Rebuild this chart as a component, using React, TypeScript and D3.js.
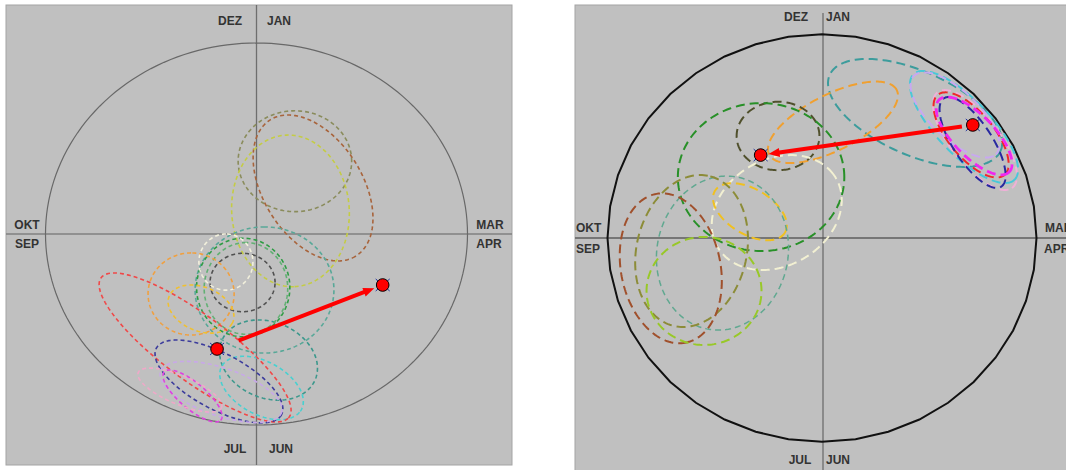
import React from 'react';
import * as d3 from 'd3';

// Month labels around each polar plot
const monthLabels = ['DEZ', 'JAN', 'OKT', 'SEP', 'MAR', 'APR', 'JUL', 'JUN'];

// Ellipses: [centerX, centerY, halfWidth, halfHeight, topOffset] in units of the circle radius (±100)
const leftEllipses: [number, number, number, number, number][] = [
  [18.2, 38.1, 26.9, 26.4, 0],
  [26.8, 24.1, 28.4, 38.2, -11.8],
  [16.1, 12.1, 27.9, 39.7, -1],
  [3.8, -29.3, 32.9, 33.0, 0],
  [5.7, -66, 23.2, 21, -4.7],
  [2.4, -80.6, 19.8, 16.6, -8.5],
  [-6.6, -25.4, 15.4, 15.3, 0],
  [-6.3, -28, 22.1, 25.8, 0],
  [-5, -28.5, 19.8, 24, 0],
  [-14.5, -14.7, 12.8, 14.7, 0],
  [-31, -31.4, 20.4, 21.5, 0],
  [-26.3, -39.3, 15.6, 12.6, -4.7],
  [-29.1, -59.4, 45.5, 39, -38.4],
  [-17.8, -77.2, 30.3, 21.7, -20.1],
  [-16.8, -82.7, 28.9, 16, -16.6],
  [-30.3, -84.8, 14, 13.6, -10.9],
  [-36.3, -81.7, 19.9, 11.5, -14.2],
];
const leftColors = [
  '#8a8c5c', '#a8643c', '#c4cc44', '#58a898', '#3c988c', '#48d0d0', '#505050',
  '#2e9c44', '#62b074', '#f2f0dc', '#f0a040', '#f0c030', '#f04848', '#3c3c9c',
  '#c8a8e8', '#e040e0', '#f0a8c8',
];

const rightEllipses: [number, number, number, number, number][] = [
  [43.4, 61.4, 40.6, 26.5, -22.4],
  [5.1, 56.8, 30.3, 20, 20],
  [-20.5, 50.1, 19.3, 16.8, 0],
  [-28.4, 29.9, 38.8, 36.3, 0],
  [-21.1, 12.5, 30.3, 28.2, 6.5],
  [-33.6, 12.9, 17.2, 14, -8.2],
  [-46.4, -7.4, 30.8, 37.8, 2],
  [-60.8, -6.4, 26.3, 37.3, 4],
  [-70.5, -14.9, 23.8, 36.8, -4],
  [-55, -26, 26.8, 26.5, 0],
  [71.3, 48.1, 19.6, 24.5, -14],
  [66.2, 54.5, 25.2, 27.5, -19.1],
  [62, 60.4, 20.7, 20.9, -14.5],
  [69.5, 50.6, 17.5, 20.9, -11.9],
  [70.2, 46.9, 15.4, 22.3, -11.2],
  [70.9, 50.1, 17.7, 19.1, -12.6],
];
const rightColors = [
  '#3c9c9c', '#f0a030', '#50502c', '#289028', '#f2f0d2', '#f0c020', '#60a890',
  '#8c8c38', '#a0502c', '#98c828', '#f0b0d8', '#48c8d8', '#c8a8f0', '#f02828',
  '#2828a0', '#f028f0',
];

// Centroid shift: [from], [to]
const leftDots: [number, number][] = [[-18.7, -60.2], [59.8, -26.7]];
const rightDots: [number, number][] = [[70.3, 55.5], [-28.6, 40.7]];

function ellipsePath(
  e: [number, number, number, number, number],
  x: d3.ScaleLinear<number, number>,
  y: d3.ScaleLinear<number, number>
) {
  const [cx, cy, w, h, t] = e;
  const S = w * w + h * h;
  const C = w * w - h * h;
  const D = 2 * t * h;
  const R = Math.sqrt(C * C + D * D);
  const a = Math.sqrt((S + R) / 2);
  const b = Math.sqrt(Math.max(0, (S - R) / 2));
  const phi = 0.5 * Math.atan2(D, C);
  const pts: [number, number][] = d3.range(0, 2 * Math.PI, Math.PI / 90).map((s) => [
    cx + a * Math.cos(s) * Math.cos(phi) - b * Math.sin(s) * Math.sin(phi),
    cy + a * Math.cos(s) * Math.sin(phi) + b * Math.sin(s) * Math.cos(phi),
  ]);
  return d3
    .line<[number, number]>()
    .x((d) => x(d[0]))
    .y((d) => y(d[1]))
    .curve(d3.curveLinearClosed)(pts) as string;
}

function boundaryPath(
  x: d3.ScaleLinear<number, number>,
  y: d3.ScaleLinear<number, number>,
  n: number
) {
  const pts: [number, number][] = d3.range(n).map((i) => {
    const ang = (i / n) * 2 * Math.PI;
    return [100 * Math.cos(ang), 100 * Math.sin(ang)];
  });
  return d3
    .line<[number, number]>()
    .x((d) => x(d[0]))
    .y((d) => y(d[1]))
    .curve(d3.curveLinearClosed)(pts) as string;
}

function Arrow({ p0, p1, s0, s1 }: { p0: [number, number]; p1: [number, number]; s0: number; s1: number }) {
  const dx = p1[0] - p0[0];
  const dy = p1[1] - p0[1];
  const L = Math.hypot(dx, dy);
  const ux = dx / L;
  const uy = dy / L;
  const sx = p0[0] + ux * s0;
  const sy = p0[1] + uy * s0;
  const tx = p1[0] - ux * s1;
  const ty = p1[1] - uy * s1;
  const hl = 11;
  const hw = 4.5;
  const bx = tx - ux * hl;
  const by = ty - uy * hl;
  const head = `M${tx},${ty} L${bx - uy * hw},${by + ux * hw} L${bx + uy * hw},${by - ux * hw} Z`;
  return (
    <g>
      <line x1={sx} y1={sy} x2={bx + ux * 2} y2={by + uy * 2} stroke="#ff0000" strokeWidth={4} />
      <path d={head} fill="#ff0000" />
    </g>
  );
}

function Dot({ cx, cy }: { cx: number; cy: number }) {
  return (
    <g>
      <path
        d={`M${cx - 7},${cy - 6} L${cx + 7},${cy + 6} M${cx - 7},${cy + 6} L${cx + 7},${cy - 6}`}
        stroke="#2030a0"
        strokeWidth={1}
      />
      <circle cx={cx} cy={cy} r={6.3} fill="#ff0000" stroke="#000" strokeWidth={1} />
    </g>
  );
}

const font = { fontFamily: 'Liberation Sans, Arial, sans-serif', fontWeight: 700, fontSize: 12, fill: '#333' };

export default function App() {
  const xL = d3.scaleLinear().domain([-100, 100]).range([45.5, 467.5]);
  const yL = d3.scaleLinear().domain([-100, 100]).range([425, 43]);
  const xR = d3.scaleLinear().domain([-100, 100]).range([607.5, 1036.5]);
  const yR = d3.scaleLinear().domain([-100, 100]).range([441.7, 34.3]);

  const lp0: [number, number] = [xL(leftDots[0][0]), yL(leftDots[0][1])];
  const lp1: [number, number] = [xL(leftDots[1][0]), yL(leftDots[1][1])];
  const rp0: [number, number] = [xR(rightDots[0][0]), yR(rightDots[0][1])];
  const rp1: [number, number] = [xR(rightDots[1][0]), yR(rightDots[1][1])];

  return (
    <svg width={1066} height={470} style={{ position: 'absolute', left: 0, top: 0, background: '#fff' }}>
      {/* Left panel */}
      <g>
        <rect x={6} y={5} width={506} height={460} fill="#c0c0c0" stroke="#a4a4a4" strokeWidth={1} />
        <line x1={6} x2={512} y1={yL(0)} y2={yL(0)} stroke="#808080" strokeWidth={1.4} />
        <line x1={xL(0)} x2={xL(0)} y1={5} y2={465} stroke="#6e6e6e" strokeWidth={1.3} />
        <path d={boundaryPath(xL, yL, 180)} fill="none" stroke="#686868" strokeWidth={1.2} />
        {leftEllipses.map((e, i) => (
          <path
            key={i}
            d={ellipsePath(e, xL, yL)}
            fill="none"
            stroke={leftColors[i]}
            strokeWidth={1.6}
            strokeDasharray="4 3"
          />
        ))}
        <Arrow p0={lp0} p1={lp1} s0={23} s1={9} />
        <Dot cx={lp0[0]} cy={lp0[1]} />
        <Dot cx={lp1[0]} cy={lp1[1]} />
        <text x={230} y={25} textAnchor="middle" style={font}>{monthLabels[0]}</text>
        <text x={279} y={25} textAnchor="middle" style={font}>{monthLabels[1]}</text>
        <text x={27} y={229} textAnchor="middle" style={font}>{monthLabels[2]}</text>
        <text x={27} y={248} textAnchor="middle" style={font}>{monthLabels[3]}</text>
        <text x={490} y={229} textAnchor="middle" style={font}>{monthLabels[4]}</text>
        <text x={489} y={248} textAnchor="middle" style={font}>{monthLabels[5]}</text>
        <text x={235} y={453} textAnchor="middle" style={font}>{monthLabels[6]}</text>
        <text x={281} y={453} textAnchor="middle" style={font}>{monthLabels[7]}</text>
      </g>

      {/* Right panel */}
      <g>
        <rect x={575} y={5} width={500} height={475} fill="#c0c0c0" stroke="#a4a4a4" strokeWidth={1} />
        <line x1={575} x2={1066} y1={yR(0)} y2={yR(0)} stroke="#767676" strokeWidth={2} />
        <line x1={xR(0) + 1} x2={xR(0) + 1} y1={13} y2={470} stroke="#555" strokeWidth={1} />
        <path d={boundaryPath(xR, yR, 40)} fill="none" stroke="#111" strokeWidth={2} />
        {rightEllipses.map((e, i) => (
          <path
            key={i}
            d={ellipsePath(e, xR, yR)}
            fill="none"
            stroke={rightColors[i]}
            strokeWidth={i === 6 ? 1.5 : i === 15 ? 2.8 : 2}
            strokeDasharray={i === 6 ? '6 4' : '9 5'}
          />
        ))}
        <Arrow p0={rp0} p1={rp1} s0={11} s1={8} />
        <Dot cx={rp0[0]} cy={rp0[1]} />
        <Dot cx={rp1[0]} cy={rp1[1]} />
        <text x={796} y={21} textAnchor="middle" style={font}>{monthLabels[0]}</text>
        <text x={826} y={21} textAnchor="start" style={font}>{monthLabels[1]}</text>
        <text x={576} y={232} textAnchor="start" style={font}>{monthLabels[2]}</text>
        <text x={576} y={253} textAnchor="start" style={font}>{monthLabels[3]}</text>
        <text x={1045} y={232} textAnchor="start" style={font}>{monthLabels[4]}</text>
        <text x={1044} y={253} textAnchor="start" style={font}>{monthLabels[5]}</text>
        <text x={800} y={464} textAnchor="middle" style={font}>{monthLabels[6]}</text>
        <text x={826} y={464} textAnchor="start" style={font}>{monthLabels[7]}</text>
      </g>
    </svg>
  );
}
